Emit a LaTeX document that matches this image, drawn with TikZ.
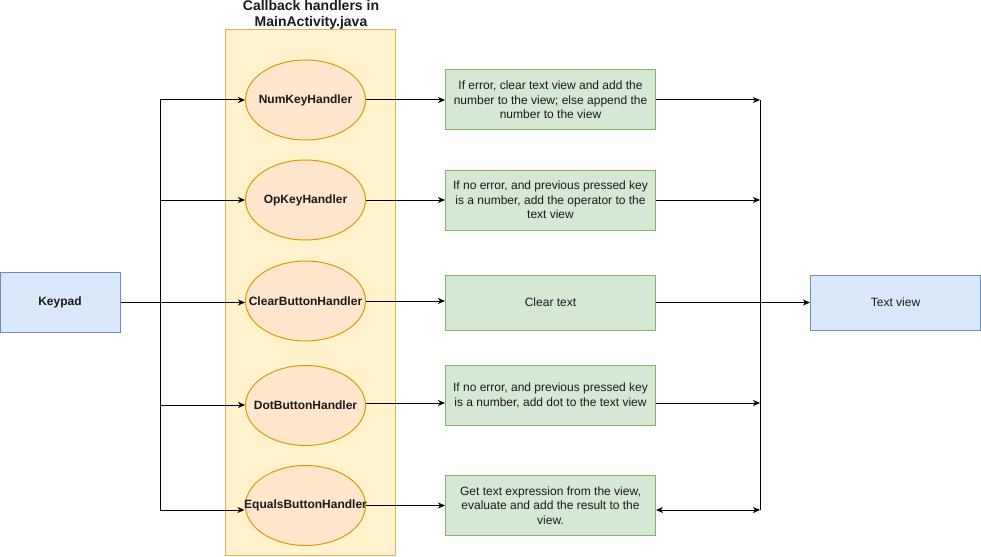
\documentclass[tikz,border=0pt]{standalone}
\usepackage{fontspec}
\setmainfont{Liberation Sans}
\usetikzlibrary{shapes.geometric,arrows.meta}
\definecolor{ylwfill}{HTML}{FFF2CC}
\definecolor{ylwdraw}{HTML}{D6B656}
\definecolor{orgfill}{HTML}{FFE6CC}
\definecolor{orgdraw}{HTML}{D79B00}
\definecolor{grnfill}{HTML}{D5E8D4}
\definecolor{grndraw}{HTML}{82B366}
\definecolor{blufill}{HTML}{DAE8FC}
\definecolor{bludraw}{HTML}{6C8EBF}
\definecolor{txt}{HTML}{1A1A1A}
\tikzset{
  txtfont/.style={font=\fontsize{12}{14.4}\selectfont, text=txt},
  hand/.style={ellipse, draw=orgdraw, fill=orgfill, line width=1pt, minimum width=120, minimum height=80, inner sep=0pt},
  handlbl/.style={font=\fontsize{12}{14.4}\selectfont\bfseries, text=txt, inner sep=0pt},
  actbox/.style={rectangle, draw=grndraw, fill=grnfill, line width=1pt, minimum width=210, minimum height=60, inner sep=0pt, align=center, txtfont},
  blubox/.style={rectangle, draw=bludraw, fill=blufill, line width=1pt, inner sep=0pt, align=center, txtfont},
  conn/.style={draw=black, line width=1pt},
  arr/.style={conn, -{Stealth[length=7pt,width=6pt,inset=2pt]}},
  darr/.style={conn, {Stealth[length=7pt,width=6pt,inset=2pt]}-{Stealth[length=7pt,width=6pt,inset=2pt]}}
}
\begin{document}
\begin{tikzpicture}[x=1pt,y=-1pt]
\useasboundingbox (0,0) rectangle (981,556);
% container
\node[draw=ylwdraw, fill=ylwfill, line width=1pt, minimum width=170, minimum height=525, inner sep=0pt] (cont) at (310.5,292.5) {};
\node[font=\fontsize{14}{16}\selectfont\bfseries, text=txt, align=center, inner sep=0pt] (title) at (311,15) {Callback handlers in\\MainActivity.java};
% handlers
\node[hand] (num) at (305.5,100) {};
\node[handlbl] at (num) {NumKeyHandler};
\node[hand] (op) at (305.5,200) {};
\node[handlbl] at (op) {OpKeyHandler};
\node[hand] (clr) at (305.5,301) {};
\node[handlbl] at (clr) {ClearButtonHandler};
\node[hand] (dot) at (305.5,405.5) {};
\node[handlbl] at (dot) {DotButtonHandler};
\node[hand] (eq) at (305.5,505.5) {};
\node[handlbl] at (eq) {EqualsButtonHandler};
% keypad
\node[blubox, minimum width=120, minimum height=60, font=\fontsize{12}{14.4}\selectfont\bfseries] (kp) at (60,302.5) {Keypad};
% action boxes
\node[actbox] (g1) at (550.5,100) {If error, clear text view and add the\\number to the view; else append the\\number to the view};
\node[actbox] (g2) at (550.5,200) {If no error, and previous pressed key\\is a number, add the operator to the\\text view};
\node[actbox, minimum height=55] (g3) at (550.5,302.5) {Clear text};
\node[actbox] (g4) at (550.5,395.5) {If no error, and previous pressed key\\is a number, add dot to the text view};
\node[actbox] (g5) at (550.5,505.5) {Get text expression from the view,\\evaluate and add the result to the\\view.};
% text view
\node[blubox, minimum width=170, minimum height=55] (tv) at (895.5,302.5) {Text view};
% left bus
\coordinate (l1) at (160,100);
\coordinate (l2) at (160,200);
\coordinate (l4) at (160,405);
\coordinate (l5) at (160,510);
\draw[conn] (l1) -- (l5);
\draw[arr] (l1) -- (num.west);
\draw[arr] (l2) -- (op.west);
\draw[arr] (kp.east) -- (kp.east -| clr.west);
\draw[arr] (l4) -- (l4 -| dot.west);
\draw[arr] (l5) -- ([xshift=-0.5pt]l5 -| eq.west);
% handler to action
\draw[arr] (num.east) -- (g1.west);
\draw[arr] (op.east) -- (g2.west);
\draw[arr] (clr.east) -- (clr.east -| g3.west);
\coordinate (d4) at (366,403);
\draw[arr] (d4) -- (d4 -| g4.west);
\draw[arr] (eq.east) -- (g5.west);
% right bus
\coordinate (r1) at (760,100);
\coordinate (r2) at (760,200);
\coordinate (r4) at (760,403);
\coordinate (r5) at (760,510);
\draw[conn] (r1) -- (r5);
\draw[arr] (g1.east) -- (r1);
\draw[arr] (g2.east) -- (r2);
\draw[arr] (r4 -| g4.east) -- (r4);
\draw[darr] (r5 -| g5.east) -- (r5);
\draw[arr] (g3.east) -- (tv.west);
\end{tikzpicture}
\end{document}
